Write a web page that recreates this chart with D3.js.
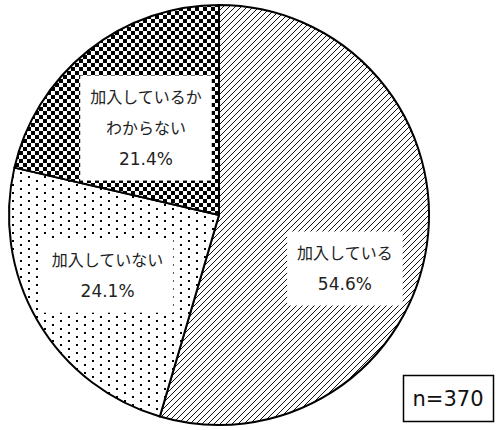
<!DOCTYPE html>
<html>
<head>
<meta charset="utf-8">
<script src="https://cdn.jsdelivr.net/npm/d3@7"></script>
<style>
  body { margin: 0; background: #fff; }
  svg { display: block; }
</style>
</head>
<body>
<script>
// data
let labels = [["加入している"], ["加入していない"], ["加入しているか", "わからない"]];
let values = [54.6, 24.1, 21.4];
let fills = ["url(#hatch)", "url(#dots)", "url(#checker)"];
let nTotal = "n=370";

let w = 496, h = 430;
let cx = 219, cy = 215, r = 210;

let svg = d3.select("body").append("svg")
    .attr("width", w)
    .attr("height", h);

let defs = svg.append("defs");

// diagonal hatch
let hatch = defs.append("pattern")
    .attr("id", "hatch")
    .attr("patternUnits", "userSpaceOnUse")
    .attr("width", 6)
    .attr("height", 6);
hatch.append("rect").attr("width", 6).attr("height", 6).attr("fill", "#fff");
hatch.append("path")
    .attr("d", "M-1,7 L7,-1 M-4,4 L4,-4 M2,10 L10,2")
    .attr("stroke", "#111")
    .attr("stroke-width", 1);

// dots
let dots = defs.append("pattern")
    .attr("id", "dots")
    .attr("patternUnits", "userSpaceOnUse")
    .attr("width", 16)
    .attr("height", 8);
dots.append("rect").attr("width", 16).attr("height", 8).attr("fill", "#fff");
dots.append("rect").attr("x", 1).attr("y", 1).attr("width", 2).attr("height", 2).attr("fill", "#000");
dots.append("rect").attr("x", 9).attr("y", 5).attr("width", 2).attr("height", 2).attr("fill", "#000");

// checkerboard
let checker = defs.append("pattern")
    .attr("id", "checker")
    .attr("patternUnits", "userSpaceOnUse")
    .attr("width", 8)
    .attr("height", 8);
checker.append("rect").attr("width", 8).attr("height", 8).attr("fill", "#fff");
checker.append("rect").attr("width", 4).attr("height", 4).attr("fill", "#000");
checker.append("rect").attr("x", 4).attr("y", 4).attr("width", 4).attr("height", 4).attr("fill", "#000");

let pie = d3.pie().sort(null).value(d => d);
let arcs = pie(values);
let arc = d3.arc().innerRadius(0).outerRadius(r);

let g = svg.append("g").attr("transform", "translate(" + cx + "," + cy + ")");

g.selectAll("path.slice")
    .data(arcs)
    .enter()
    .append("path")
    .attr("class", "slice")
    .attr("d", arc)
    .attr("fill", (d, i) => fills[i])
    .attr("stroke", "#000")
    .attr("stroke-width", 2)
    .attr("stroke-linejoin", "round");

// label anchors: centroid on a ring, then nudged like the original's best fit
let labelArc = d3.arc().innerRadius(r * 0.62).outerRadius(r * 0.62);
let nudge = [[-3, 35], [1, -5], [8, 15]];
let lineH = 31;

arcs.forEach((d, i) => {
    let c = labelArc.centroid(d);
    let x = c[0] + nudge[i][0];
    let y = c[1] + nudge[i][1];
    let lines = labels[i].concat([values[i].toFixed(1) + "%"]);
    let lg = g.append("g").attr("transform", "translate(" + x + "," + y + ")");
    let box = lg.append("rect").attr("fill", "#fff");
    let t = lg.append("text")
        .attr("text-anchor", "middle")
        .attr("fill", "#222");
    lines.forEach((s, k) => {
        let last = k == lines.length - 1;
        t.append("tspan")
            .attr("x", 0)
            .attr("y", (k - (lines.length - 1) / 2) * lineH)
            .attr("dy", "0.36em")
            .attr("font-size", last ? 17 : 16)
            .attr("font-family", last ? "'DejaVu Sans', sans-serif" : "'Noto Sans CJK JP', sans-serif")
            .text(s);
    });
    let bb = t.node().getBBox();
    box.attr("x", bb.x - 10)
        .attr("y", -(lines.length * lineH) / 2 - 6)
        .attr("width", bb.width + 20)
        .attr("height", lines.length * lineH + 12);
});

// n box
let nb = svg.append("g");
nb.append("rect")
    .attr("x", 403.5)
    .attr("y", 375.5)
    .attr("width", 90)
    .attr("height", 46)
    .attr("fill", "#fff")
    .attr("stroke", "#000")
    .attr("stroke-width", 1.5);
nb.append("text")
    .attr("x", 448)
    .attr("y", 406)
    .attr("text-anchor", "middle")
    .attr("font-family", "'DejaVu Sans', sans-serif")
    .attr("font-size", 21)
    .attr("fill", "#111")
    .text(nTotal);
</script>
</body>
</html>
